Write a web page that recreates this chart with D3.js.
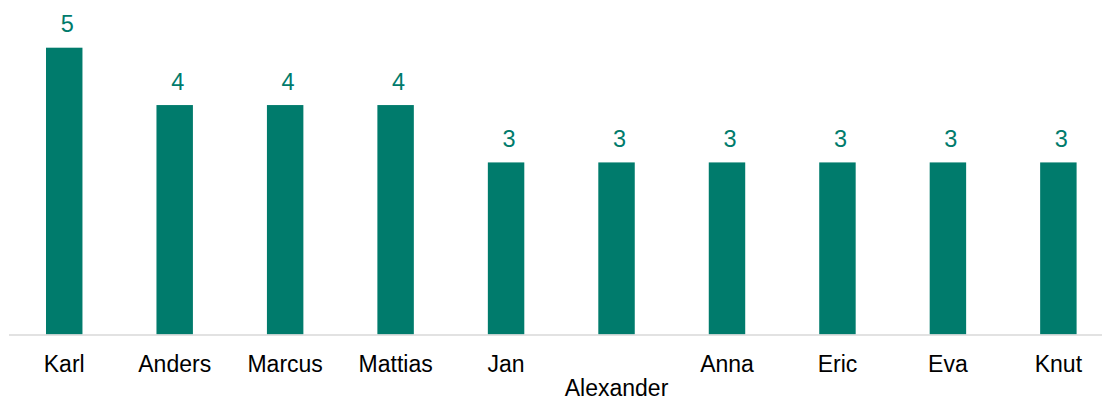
<!DOCTYPE html>
<html>
<head>
<meta charset="utf-8">
<script src="https://cdn.jsdelivr.net/npm/d3@7"></script>
<style>
  html, body { margin: 0; padding: 0; background: #fff; }
  svg { display: block; font-family: "Liberation Sans", Arial, sans-serif; }
</style>
</head>
<body>
<svg id="chart" width="1102" height="401"></svg>
<script>
// Names and counts, in display order
const names = ["Karl", "Anders", "Marcus", "Mattias", "Jan", "Alexander", "Anna", "Eric", "Eva", "Knut"];
const counts = [5, 4, 4, 4, 3, 3, 3, 3, 3, 3];

const svg = d3.select("#chart");
const barColor = "#007B6C";
const baseY = 334.5;

const x = d3.scaleBand()
  .domain(names)
  .range([9, 1113.6])
  .paddingInner(0.67)
  .paddingOuter(0.335);

const y = d3.scaleLinear()
  .domain([0, 5])
  .range([baseY, 47.7]);

// bars
svg.append("g")
  .selectAll("rect")
  .data(names)
  .join("rect")
  .attr("x", d => x(d))
  .attr("width", x.bandwidth())
  .attr("y", (d, i) => y(counts[i]))
  .attr("height", (d, i) => baseY - y(counts[i]))
  .attr("fill", barColor);

// value labels
svg.append("g")
  .selectAll("text")
  .data(names)
  .join("text")
  .attr("x", d => x(d) + x.bandwidth() / 2 + 3)
  .attr("y", (d, i) => y(counts[i]) - 15.5)
  .attr("text-anchor", "middle")
  .attr("font-size", 23.5)
  .attr("fill", barColor)
  .text((d, i) => counts[i]);

// category axis; the long name drops to a second row
const axis = svg.append("g")
  .attr("transform", `translate(0,${baseY})`)
  .call(d3.axisBottom(x).tickSize(0).tickPadding(0));
axis.select(".domain").attr("stroke", "#d9d9d9").attr("stroke-width", 1.5)
  .attr("d", "M9,0.5H1113.6");
axis.selectAll(".tick text")
  .attr("font-size", 23)
  .attr("font-family", "'Liberation Sans', Arial, sans-serif")
  .attr("fill", "#000")
  .attr("dy", null)
  .attr("y", d => d === "Alexander" ? 61.5 : 37.5);
</script>
</body>
</html>
